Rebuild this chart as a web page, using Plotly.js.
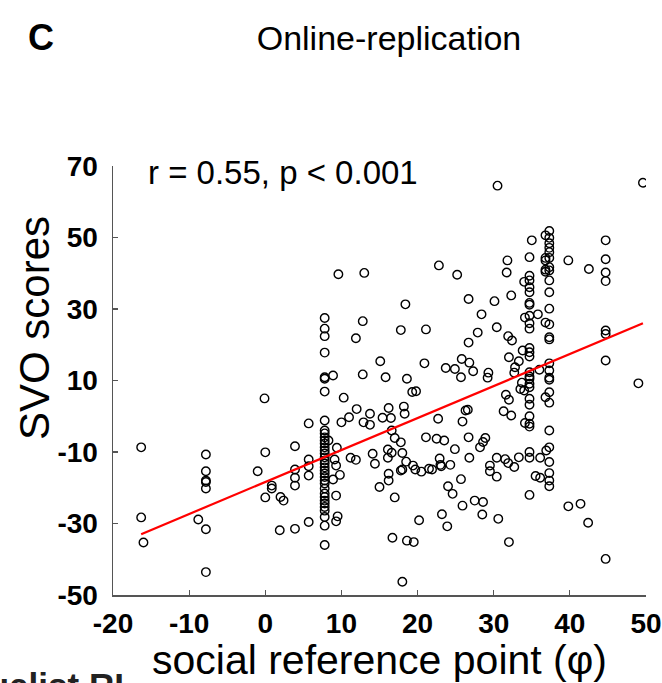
<!DOCTYPE html>
<html>
<head>
<meta charset="utf-8">
<script src="https://cdn.plot.ly/plotly-3.0.1.min.js"></script>
<style>html,body{margin:0;padding:0;background:#fff;}#chart{width:662px;height:683px;}</style>
</head>
<body>
<div id="chart"></div>
<script>
// social reference point (phi) and SVO scores
const phi = [
  -16.3,-16.3,-16.0,
  -7.8,-7.8,-7.8,-7.8,-7.8,-8.8,-7.8,-7.8,
  -0.1,0,-1,0,0.85,0.85,2,2.4,1.9,3.9,3.9,3.9,3.9,3.9,5.7,5.7,5.7,5.7,5.7,
  7.8,7.8,7.8,7.8,7.8,7.8,7.8,7.8,7.8,7.8,7.8,7.8,7.8,7.8,7.8,7.8,7.8,7.8,7.8,7.8,7.8,7.8,7.8,7.8,7.8,7.8,7.8,7.8,7.8,7.8,7.8,7.8,7.8,7.8,7.8,
  8.9,10.3,9.4,8.3,9.1,9.3,8.9,9.8,9.3,9.5,9.3,10,11,12,11.2,11.9,12.8,12.9,13.75,13.75,14.1,14.4,15,9.6,13,12.8,11.9,
  30.5,22.8,25.2,18.4,26.7,30.1,28.4,17.8,21.1,27.9,30.4,26.7,15.1,20.9,23.7,24.9,25.8,26.8,27.3,29.3,15.8,18.6,25.7,29.2,
  19.3,19.8,15.4,16.5,16.2,18.2,18.3,22.7,26.3,26.6,25.9,16.6,17,17.8,21.1,22.5,23.5,24.9,26.7,28.2,28.6,28.9,
  16.1,16.6,16.1,18,18.5,19.4,19.7,17.8,18,20.5,21.5,21.9,22.9,23,23.1,24.3,16.2,16.2,17,25.7,24,24.6,26.8,
  25.9,27.5,28.6,28.5,23.2,23.9,20.2,16.7,18.6,19.5,18,30.4,30.4,30.6,
  49.6,
  37.3,37.3,37.3,37.3,37.3,37.3,37.3,37.3,37.3,37.3,37.3,37.3,37.3,37.3,37.3,37.3,37.3,
  36.8,36.8,36.8,36.8,36.8,36.8,
  35,34.7,31.8,31.7,34.7,34.7,34,34.7,34.7,34.7,34.7,32.3,35.8,34.1,34.7,34.7,34.7,31.9,32.4,33.8,34.7,34.7,34.7,32,33.3,32.8,32.7,34.7,34.7,34.7,36,
  39.8,42.5,44.7,44.7,44.7,44.7,44.7,44.7,44.7,49,
  33.7,33.5,34,34.7,34.7,37.3,37.3,37.3,36.8,31.6,32,31.3,32.3,34.7,34.7,34.7,34.7,34.1,34.7,
  37.3,37.3,36.9,34.7,34.7,36.1,37.3,33.3,31.5,31.9,32.7,29.5,29.5,35.5,36.1,37.3,37.3,37.3,34.7,
  39.8,41.4,42.4,32,44.7
];
const svo = [
  -8.7,-28.3,-35.3,
  -10.7,-15.4,-18,-18.4,-20.2,-28.9,-31.6,-43.6,
  5,-10.1,-15.4,-22.7,-19.4,-20.2,-22.6,-23.6,-31.9,-31.5,-8.4,-14.9,-17.2,-19.4,-2,-12.1,-14,-16.6,-29.6,
  27.5,24.5,22.4,17.8,10.9,10.5,6.9,-1.2,-4,-4.8,-5.9,-6.8,-7.6,-8.7,-9.6,-10.4,-11.5,-12.4,-13.2,-14.3,-15.2,-16,-17,-18,-18.8,-20.2,-21.6,-22.6,-23.6,-24.4,-25.4,-26.4,-28.2,-30.6,-36,
  11.4,5.2,-8.8,-6.8,-12.1,-13.8,-17.7,-16.4,-22.2,-28,-29.4,-1.7,-0.3,2,-11.6,-12.2,11.7,-1.7,0.7,-2.4,-10.5,-13.3,-19.8,39.7,40.1,26.6,21.8,
  64.5,42.2,39.6,31.3,32.8,32.2,28.5,24.1,24.3,23.4,24.9,20.6,15.4,14.8,13.5,13.2,16,15,12.6,12.2,10.9,10.5,10.9,10.8,
  6.8,7,-0.4,-0.5,2.3,2.7,0.7,-0.7,1.6,1.8,-1.5,-4,-6.1,-7.3,-5.9,-6.3,-6.8,-9.2,-5.9,-8.7,-7.2,-6.1,
  -9.3,-10.2,-11.6,-10.3,-12.7,-13.8,-14.9,-15.2,-14.9,-15.5,-14.7,-14.9,-11.8,-13.6,-14,-13.6,-16.1,-18,-22.7,-17.6,-19.6,-21.7,-11.6,
  -25,-23.6,-24,-27.5,-27.4,-30.8,-29.1,-34,-34.8,-35.2,-46.3,-11.6,-16.9,-28.7,
  65.3,
  51.8,49.9,48.4,47.1,45.9,44.3,41.7,40.8,38,34.7,30.1,25.7,22.1,21.5,14.8,12.8,10.8,
  50.6,44.3,43.6,41,40.4,26.2,
  49.2,44.5,43.6,40.2,39.3,38,37.6,36.1,34.7,31.7,31.2,33.8,28.5,27.6,28.1,26,24.5,22.4,21.2,18.4,19.1,17.9,16.7,16.5,15.4,13.7,12.2,12.3,11.1,10.5,13,
  43.6,41.2,49.2,43.9,40.2,37.8,24,23,15.6,9.2,
  9.4,7.6,7.2,9.1,8.1,10.2,6.7,3.8,5.3,6,4.6,1.4,0.2,4.9,3.2,0,-2.1,-1.9,-2.9,
  -4,-8.7,-9.6,-10,-11.6,-11.6,-12.8,-11.5,-12,-13.1,-14.2,-13.8,-15.4,-16.7,-17.2,-15.9,-18,-19.6,-22,
  -25.2,-24.5,-29.8,-35.2,-39.9
];
// fitted line
const fitIntercept = -18.4;
const fitSlope = 0.895;
const fitRange = [-16.3, 49.6];

const xTicks = [-20, -10, 0, 10, 20, 30, 40, 50];
const yTicks = [-50, -30, -10, 10, 30, 50, 70];

const titleText = 'Online-replication';
const panelLabel = 'C';
const statText = 'r = 0.55, p < 0.001';
const xTitle = 'social reference point (φ)';
const yTitle = 'SVO scores';
const nextPanelText = 'Individualist RL';

const FONT = 'Liberation Sans, Arial, Helvetica, sans-serif';

const traces = [
  {
    type: 'scatter', mode: 'markers', x: phi, y: svo,
    marker: {symbol: 'circle-open', size: 8.5, color: '#000', line: {width: 1.4, color: '#000'}},
    hoverinfo: 'x+y', showlegend: false
  },
  {
    type: 'scatter', mode: 'lines', x: fitRange,
    y: fitRange.map(v => fitIntercept + fitSlope * v),
    line: {color: '#ff0000', width: 2.2}, showlegend: false
  }
];

const axisCommon = {
  showgrid: false, zeroline: false, showline: true,
  linecolor: '#555', linewidth: 1.5,
  ticks: 'inside', ticklen: 5, tickwidth: 1.2, tickcolor: '#555',
  tickfont: {family: FONT, size: 28, color: '#000', weight: 'bold'},
  ticklabeloverflow: 'allow',
  automargin: false
};

const PL = 113, PR = 646, PT = 166, PB = 595;
const PW = PR - PL, PH = PB - PT;

const layout = {
  width: 662, height: 683,
  margin: {l: PL, r: 662 - PR, t: PT, b: 683 - PB},
  paper_bgcolor: '#fff', plot_bgcolor: '#fff',
  title: {text: titleText, font: {family: FONT, size: 34, color: '#000'},
          xref: 'container', x: 389/662, xanchor: 'center',
          yref: 'container', y: 1 - 38/683, yanchor: 'middle'},
  xaxis: Object.assign({}, axisCommon, {
    range: [-20, 50], tickvals: xTicks, ticktext: xTicks.map(String),
    ticklabelstandoff: 3,
    title: {text: xTitle, font: {family: FONT, size: 41, color: '#000'}, standoff: 2}
  }),
  yaxis: Object.assign({}, axisCommon, {
    range: [-50, 70], tickvals: yTicks, ticktext: yTicks.map(String),
    ticklabelstandoff: 8
  }),
  annotations: [
    {text: yTitle, xref: 'paper', yref: 'paper', x: (34-PL)/PW, y: (PB-328)/PH,
     xanchor: 'center', yanchor: 'middle', textangle: -90, showarrow: false,
     font: {family: FONT, size: 42, color: '#000'}},
    {text: panelLabel, xref: 'paper', yref: 'paper', x: (41-PL)/PW, y: (PB-38)/PH,
     xanchor: 'center', yanchor: 'middle', showarrow: false,
     font: {family: FONT, size: 36, color: '#000', weight: 'bold'}},
    {text: statText, xref: 'paper', yref: 'paper', x: (146-PL)/PW, y: (PB-172)/PH,
     xanchor: 'left', yanchor: 'middle', showarrow: false,
     font: {family: FONT, size: 33, color: '#000'}},
    {text: nextPanelText, xref: 'paper', yref: 'paper', x: (138-PL)/PW, y: (PB-685)/PH,
     xanchor: 'right', yanchor: 'middle', showarrow: false,
     font: {family: FONT, size: 35, color: '#222', weight: 'bold'}}
  ]
};

Plotly.newPlot('chart', traces, layout, {staticPlot: true, displayModeBar: false});
</script>
</body>
</html>
